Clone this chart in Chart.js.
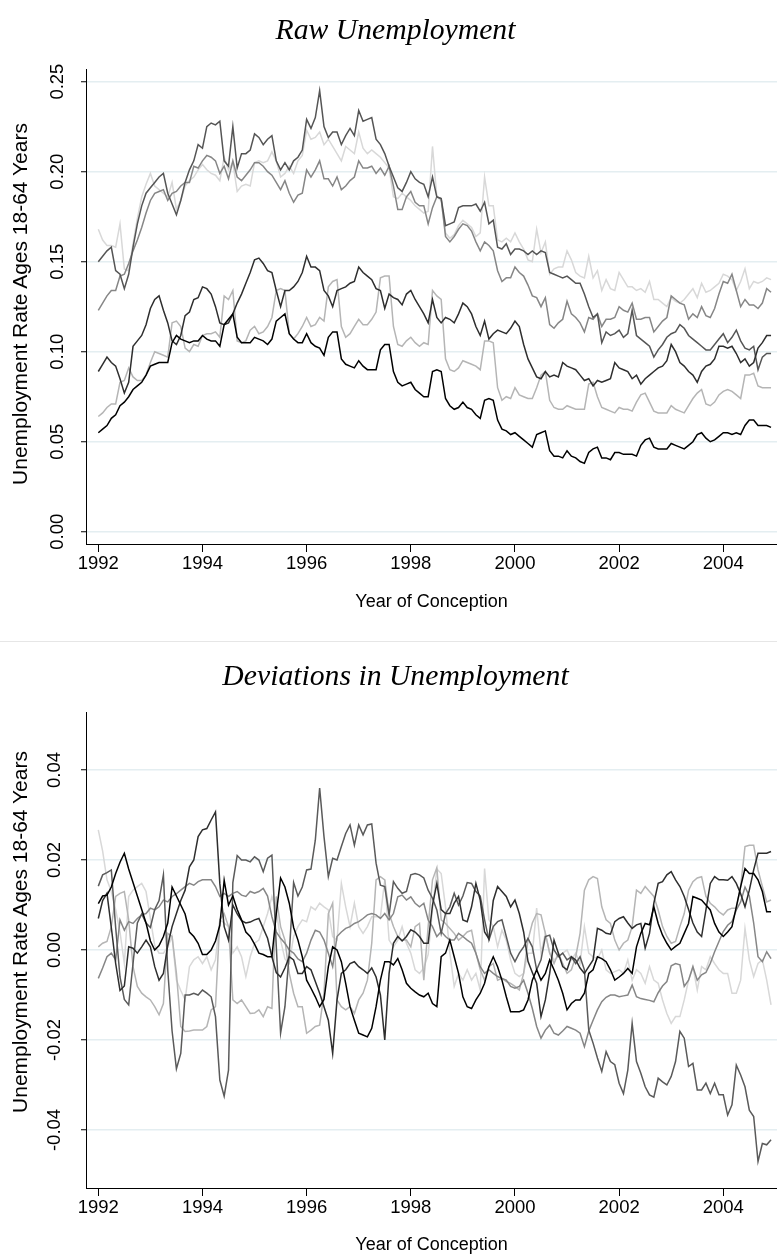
<!DOCTYPE html>
<html>
<head>
<meta charset="utf-8">
<script src="https://cdn.jsdelivr.net/npm/chart.js@4.4.1/dist/chart.umd.min.js"></script>
<style>
  html, body { margin: 0; padding: 0; background: #fff; }
  #wrap { position: relative; width: 777px; height: 1257px; overflow: hidden; }
  canvas { position: absolute; left: 0; }
  .ttl { position: absolute; left: 7px; width: 777px; text-align: center; font-family: "Liberation Serif", serif;
         font-style: italic; font-size: 29.7px; line-height: 1; white-space: nowrap; color: #000; }
  .ytl { position: absolute; left: -230.4px; width: 500px; height: 24px; line-height: 24px; text-align: center;
         font-family: "Liberation Sans", sans-serif; font-size: 21px; color: #000; white-space: nowrap;
         transform: rotate(-90deg); transform-origin: 50% 50%; }
  #sep { position: absolute; left: 0; top: 641px; width: 777px; height: 1px; background: #e6e6e6; }
</style>
</head>
<body>
<div id="wrap">
  <canvas id="rawChart" width="777" height="641" style="top:0"></canvas>
  <canvas id="devChart" width="777" height="616" style="top:641px"></canvas>
  <div id="sep"></div>
  <div class="ttl" style="top:15px">Raw Unemployment</div>
  <div class="ttl" style="top:661px">Deviations in Unemployment</div>
  <div class="ytl" style="top:292px">Unemployment Rate Ages 18-64 Years</div>
  <div class="ytl" style="top:920px">Unemployment Rate Ages 18-64 Years</div>
</div>
<script>
// monthly series, Jan 1992 .. Dec 2004
const yearStart = 1992;
const yearTicks = [1992, 1994, 1996, 1998, 2000, 2002, 2004];
const rawTicks = [0, 0.05, 0.10, 0.15, 0.20, 0.25];
const devTicks = [-0.04, -0.02, 0, 0.02, 0.04];

// raw unemployment, 6 regions
const rawA = [
  .150,.153,.156,.158,.145,.143,.135,.143,.158,.171,.181,.188,
  .191,.194,.197,.199,.188,.182,.176,.184,.194,.201,.206,.215,
  .213,.225,.227,.226,.228,.206,.203,.225,.202,.210,.210,.212,
  .221,.219,.215,.218,.220,.206,.201,.205,.201,.206,.208,.212,
  .229,.224,.230,.245,.225,.219,.222,.222,.215,.220,.224,.220,
  .234,.228,.229,.230,.218,.215,.210,.203,.197,.191,.189,.194,
  .200,.196,.194,.193,.186,.197,.186,.185,.170,.171,.172,.180,
  .181,.181,.181,.182,.178,.183,.171,.173,.158,.157,.160,.154,
  .157,.157,.156,.154,.156,.154,.156,.155,.144,.143,.142,.141,
  .142,.140,.138,.138,.132,.125,.119,.121,.105,.111,.109,.110,
  .112,.108,.110,.123,.109,.107,.105,.103,.097,.101,.104,.108,
  .110,.111,.115,.113,.109,.107,.105,.103,.101,.101,.104,.107,
  .110,.105,.108,.112,.106,.102,.101,.103,.090,.097,.099,.099
];
const rawB = [
  .123,.127,.131,.134,.134,.142,.143,.149,.156,.162,.169,.177,
  .184,.188,.189,.190,.184,.188,.189,.192,.194,.194,.203,.202,
  .206,.209,.208,.206,.199,.203,.196,.206,.197,.195,.198,.201,
  .205,.205,.203,.200,.198,.194,.190,.195,.188,.183,.187,.188,
  .201,.197,.201,.206,.196,.196,.192,.197,.190,.192,.195,.197,
  .206,.202,.202,.203,.199,.202,.198,.203,.192,.179,.179,.186,
  .189,.183,.181,.181,.171,.180,.186,.185,.164,.161,.164,.168,
  .171,.170,.167,.161,.156,.161,.159,.156,.145,.139,.141,.141,
  .147,.144,.142,.137,.131,.130,.125,.130,.115,.113,.116,.118,
  .128,.121,.119,.116,.111,.119,.118,.121,.114,.118,.118,.119,
  .125,.123,.122,.127,.118,.118,.119,.119,.111,.114,.117,.119,
  .131,.129,.127,.126,.118,.121,.119,.125,.120,.119,.124,.132,
  .139,.138,.143,.134,.125,.129,.126,.126,.124,.127,.135,.133
];
const rawC = [
  .168,.162,.159,.159,.158,.171,.146,.145,.160,.174,.186,.193,
  .199,.192,.190,.188,.186,.194,.179,.184,.192,.195,.197,.201,
  .204,.201,.199,.198,.195,.208,.201,.205,.189,.192,.193,.192,
  .205,.206,.205,.206,.211,.206,.197,.199,.203,.199,.206,.209,
  .223,.218,.219,.222,.215,.218,.214,.210,.206,.214,.212,.210,
  .222,.213,.210,.212,.210,.208,.205,.202,.186,.185,.188,.186,
  .184,.181,.179,.177,.178,.214,.186,.184,.166,.163,.165,.170,
  .173,.171,.169,.164,.166,.197,.181,.181,.162,.161,.163,.161,
  .166,.161,.157,.151,.150,.168,.155,.161,.143,.146,.147,.147,
  .156,.151,.144,.142,.141,.153,.141,.145,.134,.140,.135,.134,
  .144,.140,.136,.136,.134,.135,.133,.139,.129,.129,.127,.125,
  .130,.128,.127,.129,.132,.135,.130,.138,.133,.134,.136,.138,
  .143,.142,.140,.134,.139,.146,.135,.139,.138,.139,.141,.140
];
const rawD = [
  .089,.093,.097,.094,.092,.085,.077,.083,.103,.106,.109,.115,
  .124,.129,.131,.123,.116,.106,.104,.109,.120,.122,.129,.130,
  .136,.135,.132,.125,.116,.115,.116,.121,.127,.132,.138,.144,
  .151,.152,.149,.145,.144,.134,.125,.134,.134,.136,.139,.144,
  .153,.147,.147,.145,.134,.131,.125,.134,.135,.136,.138,.139,
  .147,.144,.142,.140,.135,.134,.124,.132,.130,.129,.126,.132,
  .134,.129,.125,.121,.116,.129,.119,.116,.119,.118,.116,.121,
  .127,.125,.121,.114,.109,.117,.107,.110,.112,.111,.110,.113,
  .117,.114,.104,.096,.091,.086,.085,.089,.086,.087,.086,.094,
  .092,.091,.090,.087,.084,.085,.081,.084,.083,.084,.085,.094,
  .091,.090,.089,.085,.087,.082,.085,.087,.089,.091,.092,.095,
  .104,.100,.094,.092,.089,.087,.083,.089,.092,.093,.096,.103,
  .103,.102,.103,.099,.094,.096,.092,.094,.102,.105,.109,.109
];
const rawE = [
  .064,.066,.069,.071,.071,.083,.084,.091,.086,.084,.084,.087,
  .094,.100,.099,.098,.097,.116,.117,.114,.102,.100,.104,.103,
  .109,.110,.110,.111,.108,.131,.129,.134,.106,.105,.106,.112,
  .114,.110,.111,.114,.119,.134,.135,.134,.110,.107,.110,.114,
  .119,.114,.115,.119,.117,.136,.139,.140,.114,.108,.110,.114,
  .118,.115,.115,.118,.122,.141,.142,.142,.114,.104,.103,.106,
  .108,.105,.103,.105,.104,.134,.131,.129,.096,.090,.089,.091,
  .095,.094,.093,.092,.090,.106,.106,.105,.080,.073,.075,.074,
  .080,.076,.075,.074,.074,.080,.087,.089,.073,.069,.068,.068,
  .070,.069,.068,.068,.068,.082,.083,.075,.069,.068,.067,.066,
  .069,.068,.068,.067,.072,.076,.077,.072,.067,.066,.066,.066,
  .070,.068,.067,.066,.070,.074,.077,.079,.071,.070,.072,.076,
  .078,.079,.078,.076,.074,.087,.087,.088,.081,.080,.080,.080
];
const rawF = [
  .055,.057,.059,.063,.065,.070,.072,.075,.079,.081,.083,.087,
  .092,.093,.094,.094,.094,.105,.109,.107,.106,.105,.106,.106,
  .109,.107,.106,.106,.103,.115,.118,.121,.108,.105,.105,.105,
  .108,.107,.106,.104,.107,.117,.119,.121,.110,.107,.105,.105,
  .110,.105,.103,.102,.098,.108,.111,.111,.096,.093,.092,.091,
  .095,.092,.090,.090,.090,.101,.104,.104,.089,.083,.081,.082,
  .083,.079,.077,.075,.075,.089,.090,.089,.074,.070,.068,.069,
  .072,.069,.068,.065,.063,.073,.074,.073,.062,.057,.056,.054,
  .055,.053,.051,.049,.047,.054,.055,.056,.045,.042,.042,.041,
  .045,.042,.041,.039,.038,.044,.046,.047,.041,.041,.040,.044,
  .044,.043,.043,.043,.042,.048,.051,.052,.047,.046,.046,.046,
  .049,.048,.047,.046,.048,.050,.054,.055,.052,.050,.051,.053,
  .055,.055,.054,.055,.054,.059,.062,.062,.059,.059,.059,.058
];

// deviations in unemployment, 6 regions
const devP = [
  .0142,.0167,.0172,.0178,.0050,-.0060,-.0110,-.0122,-.0030,.0060,.0080,.0060,
  .0050,.0090,.0110,.0167,-.0044,-.0180,-.0264,-.0230,-.0100,-.0100,-.0096,-.0100,
  -.0089,-.0096,-.0104,-.0148,-.0289,-.0325,-.0267,.0150,.0210,.0200,.0200,.0196,
  .0207,.0200,.0174,.0204,.0211,.0010,-.0185,-.0126,-.0007,.0150,.0120,.0140,
  .0178,.0180,.0244,.0360,.0252,.0163,.0204,.0200,.0230,.0259,.0278,.0233,
  .0278,.0256,.0278,.0280,.0193,.0144,.0141,.0078,.0152,.0137,.0126,.0130,
  .0167,.0170,.0167,.0160,.0133,.0115,.0089,.0037,.0081,.0096,.0126,.0100,
  .0120,.0150,.0148,.0130,.0120,.0067,.0022,.0052,.0063,.0067,.0030,-.0007,
  -.0026,-.0007,.0007,.0026,.0007,-.0044,-.0022,.0030,.0033,.0000,-.0015,-.0007,
  -.0022,-.0015,-.0030,-.0015,-.0044,-.0178,-.0207,-.0240,-.0270,-.0226,-.0248,-.0255,
  -.0296,-.0319,-.0267,-.0163,-.0248,-.0274,-.0304,-.0322,-.0327,-.0285,-.0293,-.0300,
  -.0281,-.0248,-.0181,-.0196,-.0259,-.0252,-.0311,-.0311,-.0296,-.0319,-.0296,-.0322,
  -.0322,-.0367,-.0344,-.0256,-.0278,-.0304,-.0356,-.0370,-.0470,-.0430,-.0433,-.0422
];
const devQ = [
  .0103,.0120,.0122,.0140,.0170,.0195,.0215,.0180,.0150,.0120,.0090,.0060,
  .0020,.0000,.0010,.0030,.0060,.0140,.0120,.0100,.0080,.0040,.0030,.0015,
  -.0010,-.0010,.0000,.0020,.0055,.0155,.0100,.0120,.0090,.0067,.0040,.0030,
  .0013,-.0007,-.0010,-.0015,-.0015,.0080,.0160,.0140,.0104,.0050,.0022,-.0015,
  -.0067,-.0085,-.0104,-.0126,-.0110,-.0037,.0007,.0000,-.0026,-.0074,-.0126,-.0156,
  -.0185,-.0189,-.0193,-.0174,-.0126,-.0067,-.0026,-.0026,-.0033,-.0019,-.0044,-.0074,
  -.0085,-.0093,-.0100,-.0104,-.0096,-.0119,-.0126,-.0015,-.0007,.0022,-.0015,-.0052,
  -.0104,-.0126,-.0130,-.0111,-.0096,-.0074,-.0037,-.0015,-.0037,-.0067,-.0104,-.0137,
  -.0137,-.0137,-.0133,-.0111,-.0067,-.0044,-.0067,-.0052,-.0022,-.0044,-.0067,-.0096,
  -.0133,-.0119,-.0111,-.0111,-.0096,-.0052,-.0044,-.0015,-.0019,-.0026,-.0044,-.0067,
  -.0060,-.0052,-.0041,-.0052,.0007,.0037,.0059,.0056,.0096,.0059,.0033,.0015,
  .0000,.0008,.0015,.0037,.0059,.0119,.0115,.0111,.0100,.0089,.0059,.0040,
  .0030,.0040,.0052,.0096,.0141,.0181,.0170,.0170,.0156,.0130,.0085,.0085
];
const devR = [
  .0070,.0110,.0126,.0050,-.0030,-.0090,-.0080,.0007,.0004,-.0007,.0007,.0022,
  .0007,-.0037,-.0067,-.0052,.0010,.0052,.0081,.0110,.0133,.0185,.0200,.0252,
  .0267,.0270,.0289,.0307,.0148,.0052,.0022,.0100,.0080,.0065,.0060,.0062,
  .0067,.0070,.0048,.0026,-.0015,-.0050,-.0060,-.0040,-.0015,-.0022,-.0052,-.0052,
  -.0037,-.0044,-.0070,-.0096,-.0126,-.0156,-.0230,-.0111,-.0052,-.0044,-.0030,-.0026,
  -.0037,-.0044,-.0052,-.0040,-.0060,-.0100,-.0200,-.0052,.0015,.0030,.0020,.0030,
  .0045,.0040,.0030,.0015,.0015,.0100,.0148,.0090,.0081,.0081,.0104,.0119,
  .0067,.0063,.0096,.0148,.0111,.0040,.0025,.0110,.0141,.0130,.0119,.0096,
  .0111,.0081,.0040,-.0025,-.0050,-.0074,-.0148,-.0111,-.0052,.0022,-.0007,-.0037,
  -.0044,-.0015,-.0022,-.0040,-.0052,-.0037,-.0022,.0048,.0044,.0037,.0035,.0063,
  .0070,.0074,.0060,.0048,.0056,.0059,.0004,.0037,.0104,.0148,.0152,.0167,
  .0174,.0156,.0141,.0119,.0090,.0060,.0040,.0030,.0089,.0148,.0163,.0156,
  .0156,.0155,.0163,.0148,.0125,.0096,.0133,.0178,.0215,.0215,.0215,.0219
];
const devS = [
  -.0063,-.0040,-.0015,-.0007,-.0022,.0067,.0044,.0063,.0059,.0070,.0078,.0081,
  .0093,.0089,.0096,.0111,.0107,.0119,.0125,.0133,.0141,.0148,.0144,.0152,
  .0156,.0156,.0156,.0141,.0119,.0126,.0119,.0126,.0130,.0122,.0119,.0130,
  .0126,.0130,.0137,.0120,.0074,.0040,.0026,.0015,.0000,-.0007,-.0020,-.0026,
  -.0007,.0022,.0044,.0040,.0022,-.0007,-.0037,.0030,.0040,.0048,.0052,.0059,
  .0063,.0070,.0078,.0081,.0078,.0070,.0081,.0067,.0081,.0118,.0122,.0111,
  .0118,.0104,.0096,.0104,.0067,.0052,.0030,.0041,.0030,.0022,.0022,.0037,
  .0030,.0022,.0015,-.0007,-.0037,-.0052,-.0044,-.0052,-.0059,-.0063,-.0067,-.0081,
  -.0085,-.0081,-.0067,-.0096,-.0130,-.0170,-.0196,-.0178,-.0167,-.0185,-.0189,-.0180,
  -.0170,-.0174,-.0178,-.0185,-.0215,-.0180,-.0156,-.0133,-.0115,-.0105,-.0100,-.0100,
  -.0104,-.0102,-.0100,-.0078,-.0104,-.0108,-.0110,-.0112,-.0115,-.0095,-.0080,-.0070,
  -.0035,-.0030,-.0033,-.0081,-.0067,-.0037,-.0067,-.0055,-.0050,-.0030,-.0004,.0019,
  .0041,.0055,.0063,.0089,.0107,.0140,.0120,.0060,-.0015,-.0026,-.0004,-.0019
];
const devT = [
  .0007,.0015,.0019,.0052,.0119,.0126,.0130,.0067,-.0037,-.0081,-.0096,-.0104,
  -.0111,-.0126,-.0144,-.0119,.0037,.0030,-.0052,-.0170,-.0181,-.0180,-.0178,-.0178,
  -.0178,-.0170,-.0133,-.0126,.0067,.0081,.0052,-.0111,-.0119,-.0111,-.0126,-.0141,
  -.0140,-.0133,-.0148,-.0126,-.0130,.0119,.0052,.0022,-.0052,-.0096,-.0126,-.0126,
  -.0185,-.0178,-.0170,-.0167,-.0096,.0081,.0104,-.0111,-.0126,-.0133,-.0126,-.0141,
  -.0111,-.0096,-.0067,.0015,.0156,.0163,.0156,.0081,.0052,.0030,.0022,.0022,
  .0007,.0052,.0059,-.0067,.0052,.0156,.0183,.0067,.0059,.0048,.0037,.0022,
  .0030,.0040,.0044,-.0007,-.0044,-.0067,-.0037,-.0030,-.0067,-.0063,-.0070,-.0074,
  -.0081,-.0089,-.0052,.0022,.0060,.0081,.0078,.0037,-.0007,-.0030,-.0007,-.0030,
  -.0052,-.0044,-.0015,.0037,.0133,.0156,.0163,.0159,.0096,.0067,.0059,.0022,
  .0000,.0015,.0022,.0052,.0133,.0126,.0141,.0130,.0119,.0089,.0052,.0030,
  .0015,.0019,.0052,.0081,.0133,.0152,.0160,.0163,.0119,.0104,.0096,.0085,
  .0078,.0089,.0093,.0093,.0141,.0230,.0233,.0233,.0178,.0141,.0107,.0111
];
const devU = [
  .0267,.0220,.0156,.0130,.0090,.0040,-.0030,.0119,.0133,.0141,.0148,.0130,
  .0070,.0010,-.0007,-.0007,.0007,.0030,-.0067,-.0090,-.0111,-.0037,-.0022,-.0015,
  -.0030,-.0015,-.0044,-.0022,.0067,.0060,.0052,-.0007,.0007,-.0015,-.0059,-.0015,
  .0015,.0022,.0052,.0081,.0119,.0089,.0022,-.0020,-.0030,.0030,.0052,.0067,
  .0063,.0096,.0089,.0104,.0096,.0089,.0030,.0022,.0148,.0096,.0052,.0104,
  .0052,.0037,.0052,.0074,.0074,.0074,.0156,.0022,.0007,.0022,.0052,.0015,
  -.0007,-.0044,-.0052,-.0040,-.0010,.0090,.0180,.0170,.0096,-.0007,-.0081,-.0052,
  -.0067,-.0044,-.0067,-.0052,-.0089,.0181,.0067,.0052,.0007,.0044,.0022,-.0022,
  -.0052,-.0059,-.0052,-.0007,-.0007,.0093,-.0007,.0037,-.0007,-.0022,-.0015,-.0007,
  .0000,-.0022,-.0007,-.0030,.0052,-.0007,-.0015,-.0020,.0000,-.0044,-.0052,-.0048,
  -.0044,-.0052,-.0022,-.0067,-.0044,-.0052,-.0074,-.0037,-.0067,-.0074,-.0111,-.0141,
  -.0163,-.0148,-.0148,-.0111,-.0067,-.0037,-.0089,-.0037,-.0044,-.0015,-.0030,-.0044,
  -.0052,-.0052,-.0096,-.0096,-.0067,.0048,-.0022,-.0059,-.0030,-.0022,-.0067,-.0122
];

const monthX = rawA.map((_, i) => yearStart + i / 12);

// darkest first so it sits on top
const rawSeries = [
  { values: rawF, color: '#000000' },
  { values: rawD, color: '#2e2e2e' },
  { values: rawA, color: '#555555' },
  { values: rawB, color: '#868686' },
  { values: rawE, color: '#b5b5b5' },
  { values: rawC, color: '#d8d8d8' }
];
const devSeries = [
  { values: devQ, color: '#000000' },
  { values: devR, color: '#2e2e2e' },
  { values: devP, color: '#5a5a5a' },
  { values: devS, color: '#868686' },
  { values: devT, color: '#b5b5b5' },
  { values: devU, color: '#d8d8d8' }
];

const tickFont = { family: 'Liberation Sans', size: 18.5 };
const xTitleFont = { family: 'Liberation Sans', size: 18 };

function makePanel(id, series, yTicks, yMin, yMax, padTop, xAxisH, xTitlePad) {
  return new Chart(document.getElementById(id), {
    type: 'line',
    data: {
      datasets: series.map(s => ({
        data: s.values.map((v, i) => ({ x: monthX[i], y: v })),
        borderColor: s.color,
        borderWidth: 1.5,
        pointRadius: 0,
        fill: false,
        tension: 0
      }))
    },
    options: {
      responsive: false,
      animation: false,
      devicePixelRatio: 1,
      layout: { padding: { left: 0, right: 0, top: padTop, bottom: 0 } },
      plugins: { legend: { display: false }, tooltip: { enabled: false } },
      scales: {
        x: {
          type: 'linear',
          min: 1991.7638,
          max: 2005.0312,
          afterBuildTicks: s => { s.ticks = yearTicks.map(v => ({ value: v })); },
          afterFit: s => { s.height = xAxisH; },
          grid: { drawOnChartArea: false, tickLength: 8, tickColor: '#000', tickWidth: 1 },
          border: { color: '#000', width: 1 },
          ticks: { font: tickFont, color: '#000', padding: 1, maxRotation: 0, callback: v => String(v) },
          title: { display: true, text: 'Year of Conception', font: xTitleFont, color: '#000',
                   padding: { top: 0, bottom: xTitlePad } }
        },
        y: {
          min: yMin,
          max: yMax,
          afterBuildTicks: s => { s.ticks = yTicks.map(v => ({ value: v })); },
          afterFit: s => { s.width = 86; },
          grid: { color: '#e4eef1', lineWidth: 1.5, tickLength: 5, tickColor: '#000', tickWidth: 1 },
          border: { color: '#000', width: 1 },
          ticks: { font: tickFont, color: '#000', padding: 5, minRotation: 90, maxRotation: 90,
                   crossAlign: 'center', callback: v => v.toFixed(2) }
        }
      }
    }
  });
}

makePanel('rawChart', rawSeries, rawTicks, -0.0068, 0.2570, 69, 97, 28);
makePanel('devChart', devSeries, devTicks, -0.0529, 0.0529, 71, 69, 1);
</script>
</body>
</html>
